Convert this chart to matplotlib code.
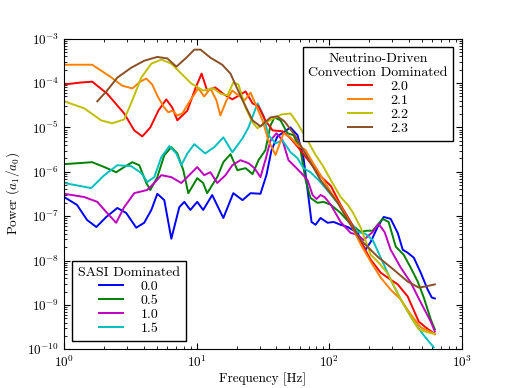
import matplotlib
matplotlib.use("Agg")
import matplotlib.pyplot as plt

plt.rcParams.update({
    "font.family": "serif",
    "font.serif": ["cmr10"],
    "mathtext.fontset": "cm",
    "axes.formatter.use_mathtext": True,
    "axes.unicode_minus": False,
    "font.size": 9.5,
    "xtick.direction": "in",
    "ytick.direction": "in",
    "xtick.top": True,
    "ytick.right": True,
    "xtick.major.size": 4,
    "ytick.major.size": 4,
    "xtick.minor.size": 2,
    "ytick.minor.size": 2,
    "legend.fancybox": False,
    "legend.edgecolor": "black",
    "legend.framealpha": 1.0,
    "lines.linewidth": 1.4,
})

# --- SASI dominated runs ---
f_00 = [1.0, 1.25, 1.49, 1.75, 2.08, 2.52, 2.94, 3.50, 4.02, 4.55, 5.05, 5.70, 6.44, 7.40, 8.07,
        8.96, 10.1, 11.2, 13.1, 15.9, 18.9, 22.2, 25.5, 30.3, 33.6, 36.7, 40.7, 45.2, 51.1, 57.7,
        64.1, 68.7, 73.6, 78.9, 86.1, 97.3, 108, 122, 138, 164, 179, 188, 206, 232, 258, 291,
        329, 359, 391, 435, 491, 554, 594, 627]
p_00 = [2.7e-7, 1.8e-7, 8.2e-8, 5.7e-8, 9.6e-8, 1.53e-7, 1.18e-7, 5.5e-8, 7.1e-8, 1.38e-7, 3.2e-7,
        2.3e-7, 3.1e-8, 1.6e-7, 2.1e-7, 1.38e-7, 2.1e-7, 1.38e-7, 3.0e-7, 9.1e-8, 3.3e-7, 2.3e-7,
        3.3e-7, 3.2e-7, 8.4e-7, 3.07e-6, 6.3e-6, 7.8e-6, 1.0e-5, 6.7e-6, 2.03e-6, 3.9e-7, 7.4e-8,
        6.4e-8, 9.1e-8, 7.1e-8, 7.4e-8, 6.4e-8, 5.7e-8, 4.2e-8, 2.27e-8, 1.75e-8, 2.65e-8, 5.7e-8,
        9.6e-8, 8.7e-8, 4.2e-8, 1.75e-8, 1.5e-8, 1.16e-8, 5.3e-9, 2.2e-9, 1.47e-9, 1.39e-9]

f_05 = [1.0, 1.63, 2.01, 2.47, 2.84, 3.27, 3.69, 4.17, 4.47, 5.05, 5.70, 6.44, 7.15, 7.93, 8.65,
        10.1, 11.2, 12.0, 14.3, 15.9, 18.0, 20.3, 23.4, 26.4, 29.3, 33.0, 36.1, 38.7, 42.9, 48.5,
        53.8, 60.8, 66.4, 72.3, 81.7, 90.7, 103, 122, 145, 173, 192, 213, 253, 281, 318, 365,
        412, 466, 517, 584, 627]
p_05 = [1.49e-6, 1.65e-6, 1.28e-6, 9.8e-7, 1.28e-6, 1.65e-6, 1.41e-6, 5.6e-7, 3.9e-7, 7.6e-7,
        2.37e-6, 3.6e-6, 2.6e-6, 1.09e-6, 3.3e-7, 7.2e-7, 5.6e-7, 3.3e-7, 7.6e-7, 1.65e-6, 2.5e-6,
        1.09e-6, 1.21e-6, 8.9e-7, 1.83e-6, 3.07e-6, 1.12e-5, 1.69e-5, 1.45e-5, 7.4e-6, 6.7e-6,
        3.07e-6, 6.5e-7, 2.57e-7, 2.0e-7, 2.1e-7, 1.8e-7, 1.18e-7, 6.7e-8, 4.4e-8, 4.7e-8, 4.7e-8,
        8.7e-8, 7.4e-8, 2.05e-8, 1.35e-8, 6.9e-9, 3.35e-9, 1.47e-9, 4.7e-10, 2.8e-10]

f_10 = [1.0, 1.42, 1.78, 2.11, 2.47, 2.84, 3.38, 4.24, 4.79, 5.41, 6.44, 7.66, 9.12, 10.1, 11.4,
        12.7, 14.3, 16.5, 18.6, 21.4, 24.6, 27.3, 30.3, 33.0, 36.1, 40.0, 44.5, 49.3, 54.8, 60.8,
        68.7, 75.0, 80.3, 86.1, 92.3, 103, 122, 145, 164, 182, 213, 236, 262, 291, 347, 412,
        491, 584, 627]
p_10 = [3.2e-7, 2.7e-7, 2.1e-7, 1.18e-7, 7.1e-8, 1.6e-7, 3.3e-7, 3.9e-7, 5.6e-7, 8.4e-7, 7.6e-7,
        5.6e-7, 9.4e-7, 1.28e-6, 8.4e-7, 9.8e-7, 5.6e-7, 8.4e-7, 1.41e-6, 1.83e-6, 1.57e-6,
        1.21e-6, 7.6e-7, 1.83e-6, 5.1e-6, 7.4e-6, 5.1e-6, 1.83e-6, 1.34e-6, 9.8e-7, 6.5e-7,
        3.0e-7, 2.44e-7, 3.0e-7, 2.7e-7, 1.8e-7, 7.4e-8, 4.2e-8, 3.8e-8, 2.9e-8, 4.4e-8, 6.7e-8,
        4.4e-8, 1.75e-8, 6.9e-9, 3.2e-9, 1.13e-9, 4.2e-10, 2.5e-10]

f_15 = [1.0, 1.60, 2.01, 2.52, 3.21, 3.82, 4.24, 4.79, 5.41, 6.22, 7.03, 7.66, 8.51, 9.6, 11.6,
        13.6, 15.9, 18.6, 22.2, 24.6, 28.8, 31.9, 34.8, 39.4, 44.5, 51.1, 57.7, 64.1, 72.3, 83.2,
        94.0, 108, 128, 145, 164, 188, 213, 245, 291, 347, 435, 517, 615]
p_15 = [5.6e-7, 4.3e-7, 8.4e-7, 1.41e-6, 1.34e-6, 9.4e-7, 5.9e-7, 7.6e-7, 2.14e-6, 3.8e-6, 2.6e-6,
        1.41e-6, 2.6e-6, 4.2e-6, 2.6e-6, 3.6e-6, 6.0e-6, 2.77e-6, 5.7e-6, 1.0e-5, 3.5e-5, 1.87e-5,
        6.7e-6, 4.4e-6, 5.1e-6, 2.77e-6, 2.03e-6, 1.21e-6, 9.8e-7, 6.5e-7, 4.3e-7, 2.57e-7,
        1.38e-7, 7.4e-8, 4.4e-8, 4.0e-8, 2.9e-8, 1.16e-8, 3.7e-9, 1.32e-9, 4.2e-10, 2.06e-10,
        1.1e-10]

# --- neutrino-driven convection dominated runs ---
f_20 = [1.0, 1.32, 1.63, 2.11, 2.84, 3.38, 3.89, 4.47, 5.14, 5.90, 6.55, 7.15, 8.51, 9.78, 10.9,
        12.0, 13.8, 16.2, 18.6, 23.4, 26.4, 29.3, 33.0, 37.4, 44.5, 51.1, 60.8, 72.3, 86.1, 103,
        122, 145, 173, 206, 245, 291, 329, 391, 474, 535, 627]
p_20 = [9.3e-5, 1.03e-4, 1.08e-4, 5.8e-5, 2.07e-5, 8.6e-6, 6.3e-6, 1.0e-5, 2.4e-5, 4.3e-5, 2.8e-5,
        1.45e-5, 2.4e-5, 7.6e-5, 1.64e-4, 6.8e-5, 8.0e-5, 5.5e-5, 4.3e-5, 6.5e-5, 3.5e-5, 3.0e-5,
        1.45e-5, 8.6e-6, 8.2e-6, 5.7e-6, 3.07e-6, 1.57e-6, 8.0e-7, 4.8e-7, 1.8e-7, 7.4e-8,
        2.65e-8, 1.04e-8, 5.3e-9, 3.7e-9, 2.9e-9, 1.55e-9, 4.2e-10, 3.1e-10, 2.2e-10]

f_21 = [1.0, 1.63, 2.23, 2.74, 3.27, 3.75, 4.17, 4.62, 5.14, 5.70, 6.11, 6.55, 7.15, 7.80, 8.96,
        10.3, 11.4, 12.7, 14.1, 15.1, 16.8, 18.6, 20.7, 23.0, 25.5, 28.3, 31.4, 34.8, 39.4, 45.2,
        51.1, 57.7, 66.4, 75.0, 86.1, 103, 122, 145, 173, 206, 245, 291, 347, 412, 491, 627]
p_21 = [2.6e-4, 2.6e-4, 1.4e-4, 8.8e-5, 7.6e-5, 1.08e-4, 1.27e-4, 9.3e-5, 4.7e-5, 2.8e-5, 2.2e-5,
        2.4e-5, 1.87e-5, 2.07e-5, 4.1e-5, 7.6e-5, 5.0e-5, 7.6e-5, 4.1e-5, 1.87e-5, 4.1e-5, 6.8e-5,
        5.3e-5, 4.1e-5, 6.1e-5, 3.0e-5, 1.45e-5, 5.1e-6, 2.4e-6, 7.4e-6, 6.0e-6, 4.0e-6, 3.1e-6,
        1.65e-6, 8.4e-7, 3.5e-7, 1.7e-7, 6.7e-8, 2.3e-8, 9.4e-9, 4.1e-9, 2.2e-9, 1.32e-9,
        6.1e-10, 3.1e-10, 2.2e-10]

f_22 = [1.0, 1.42, 1.90, 2.31, 2.84, 3.27, 3.82, 4.55, 5.41, 6.44, 7.66, 9.12, 11.2, 13.4, 15.1,
        17.1, 18.9, 20.7, 23.4, 26.4, 28.8, 33.0, 38.0, 43.7, 51.1, 57.7, 68.7, 78.9, 89.1, 103,
        122, 138, 150, 173, 206, 236, 276, 347, 412, 474, 554, 627]
p_22 = [3.9e-5, 2.7e-5, 1.45e-5, 1.24e-5, 1.52e-5, 4.1e-5, 1.33e-4, 2.75e-4, 3.4e-4, 2.75e-4,
        1.64e-4, 9.8e-5, 6.8e-5, 7.6e-5, 5.8e-5, 5.3e-5, 1.03e-4, 9.3e-5, 2.8e-5, 1.3e-5, 9.6e-6,
        1.3e-5, 1.6e-5, 1.97e-5, 2.07e-5, 1.24e-5, 5.1e-6, 2.4e-6, 1.41e-6, 6.5e-7, 2.7e-7,
        1.8e-7, 1.25e-7, 5.5e-8, 1.35e-8, 9.0e-9, 5.1e-9, 1.32e-9, 5.5e-10, 2.8e-10, 2.4e-10,
        2.2e-10]

f_23 = [1.78, 2.11, 2.52, 3.21, 4.02, 5.05, 6.01, 7.03, 8.36, 9.6, 10.7, 12.7, 15.6, 18.0, 22.2,
        26.4, 30.3, 36.1, 40.7, 46.0, 53.8, 68.7, 86.1, 116, 145, 173, 232, 307, 391, 474, 535,
        627]
p_23 = [3.9e-5, 6.8e-5, 1.33e-4, 2.23e-4, 3.2e-4, 3.9e-4, 3.6e-4, 2.35e-4, 3.75e-4, 5.7e-4,
        5.7e-4, 3.75e-4, 2.6e-4, 1.64e-4, 4.1e-5, 1.45e-5, 1.06e-5, 1.69e-5, 1.78e-5, 1.37e-5,
        7.4e-6, 2.14e-6, 6.5e-7, 2.0e-7, 6.4e-8, 2.9e-8, 1.22e-8, 6.2e-9, 3.35e-9, 2.46e-9,
        2.6e-9, 2.9e-9]

sasi_labels = ["0.0", "0.5", "1.0", "1.5"]
conv_labels = ["2.0", "2.1", "2.2", "2.3"]

fig = plt.figure(figsize=(5.13, 3.88), dpi=100)
ax = fig.add_subplot(111)

sasi = []
for f, p, c, lab in zip([f_00, f_05, f_10, f_15], [p_00, p_05, p_10, p_15],
                        ["#0000ff", "#008000", "#bf00bf", "#00bfbf"], sasi_labels):
    ln, = ax.plot(f, p, color=c, label=lab, solid_joinstyle="round")
    sasi.append(ln)

conv = []
for f, p, c, lab in zip([f_20, f_21, f_22, f_23], [p_20, p_21, p_22, p_23],
                        ["#ff0000", "#ff8000", "#bfbf00", "#8b4f26"], conv_labels):
    ln, = ax.plot(f, p, color=c, label=lab, solid_joinstyle="round")
    conv.append(ln)

ax.set_xscale("log")
ax.set_yscale("log")
ax.set_xlim(1, 1000)
ax.set_ylim(1e-10, 1e-3)
ax.set_xlabel("Frequency [Hz]", labelpad=2)
ax.set_ylabel(r"Power $(a_1/a_0)$", labelpad=4)

leg_kw = dict(fontsize=10, title_fontsize=10, handlelength=1.7, handletextpad=1.3,
              labelspacing=0.1, borderaxespad=0.6)
leg1 = ax.legend(handles=conv, title="Neutrino-Driven\nConvection Dominated",
                 loc="upper right", **leg_kw)
leg1.get_title().set_multialignment("center")
ax.add_artist(leg1)
ax.legend(handles=sasi, title="SASI Dominated", loc="lower left", **leg_kw)

fig.subplots_adjust(left=0.125, right=0.9, bottom=0.1, top=0.9)
fig.savefig("out.png", dpi=100)
